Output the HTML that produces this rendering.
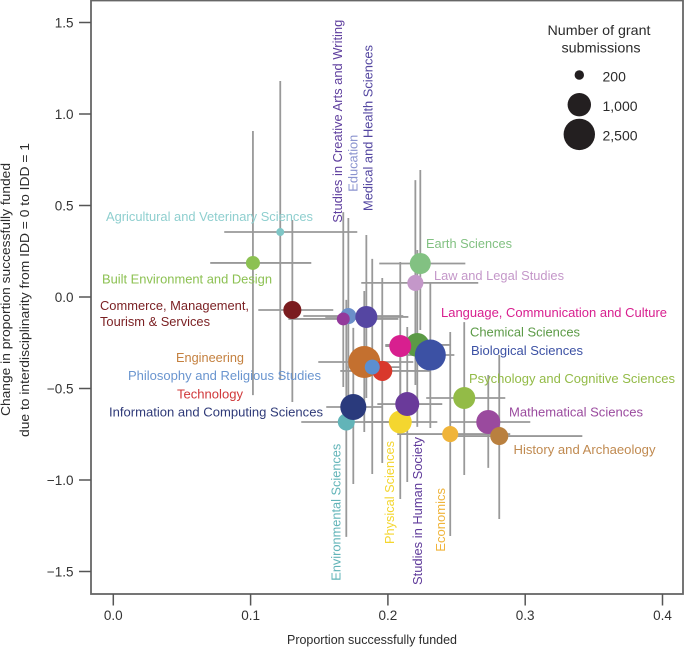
<!DOCTYPE html>
<html>
<head>
<meta charset="utf-8">
<title>Grant funding and interdisciplinarity by research field</title>
<style>
html,body{margin:0;padding:0;background:#fff;}
svg{display:block;font-family:"Liberation Sans",sans-serif;}
text{font-size:13px;}
.tick{fill:#333;font-size:13.5px;}
.ttl{fill:#2b2b2b;font-size:13.2px;}
.lg{fill:#2b2b2b;font-size:14px;}
</style>
</head>
<body>
<svg id="chart" width="685" height="648" viewBox="0 0 685 648">
  <rect x="0" y="0" width="685" height="648" fill="#fff"/>
  <rect x="91" y="0.5" width="592" height="593.5" fill="none" stroke="#666" stroke-width="1.8"/>
  <g id="grid-ticks"></g>
  <g id="bars"></g>
  <g id="points"></g>

  <g>
    <text x="106" y="221" fill="#8fcfcf" textLength="207" lengthAdjust="spacingAndGlyphs">Agricultural and Veterinary Sciences</text>
    <text x="102" y="283.5" fill="#8cc152" textLength="170" lengthAdjust="spacingAndGlyphs">Built Environment and Design</text>
    <text x="100" y="310" fill="#7a1f22" textLength="149" lengthAdjust="spacingAndGlyphs">Commerce, Management,</text>
    <text x="100" y="326" fill="#7a1f22" textLength="110" lengthAdjust="spacingAndGlyphs">Tourism &amp; Services</text>
    <text x="176" y="362" fill="#c4803f" textLength="68" lengthAdjust="spacingAndGlyphs">Engineering</text>
    <text x="128" y="380" fill="#6a95cf" textLength="193" lengthAdjust="spacingAndGlyphs">Philosophy and Religious Studies</text>
    <text x="177" y="398.5" fill="#d0383a" textLength="66" lengthAdjust="spacingAndGlyphs">Technology</text>
    <text x="109" y="416.5" fill="#2f3a78" textLength="214" lengthAdjust="spacingAndGlyphs">Information and Computing Sciences</text>
    <text x="426" y="248" fill="#82c182" textLength="86" lengthAdjust="spacingAndGlyphs">Earth Sciences</text>
    <text x="434" y="280" fill="#c497c9" textLength="130" lengthAdjust="spacingAndGlyphs">Law and Legal Studies</text>
    <text x="441" y="317" fill="#d81f8f" textLength="226" lengthAdjust="spacingAndGlyphs">Language, Communication and Culture</text>
    <text x="470" y="336.5" fill="#5b9a46" textLength="110" lengthAdjust="spacingAndGlyphs">Chemical Sciences</text>
    <text x="471" y="355" fill="#3c51a4" textLength="112" lengthAdjust="spacingAndGlyphs">Biological Sciences</text>
    <text x="469" y="383" fill="#93bb47" textLength="206" lengthAdjust="spacingAndGlyphs">Psychology and Cognitive Sciences</text>
    <text x="509" y="416.5" fill="#9a4a9e" textLength="134" lengthAdjust="spacingAndGlyphs">Mathematical Sciences</text>
    <text x="513.5" y="454" fill="#c08a50" textLength="142" lengthAdjust="spacingAndGlyphs">History and Archaeology</text>
    <text transform="translate(342,222.7) rotate(-90)" fill="#5f3f9e" textLength="203" lengthAdjust="spacingAndGlyphs">Studies in Creative Arts and Writing</text>
    <text transform="translate(357.5,191.7) rotate(-90)" fill="#8a93cf" textLength="57" lengthAdjust="spacingAndGlyphs">Education</text>
    <text transform="translate(372.7,211) rotate(-90)" fill="#5346a0" textLength="166" lengthAdjust="spacingAndGlyphs">Medical and Health Sciences</text>
    <text transform="translate(340.7,580.7) rotate(-90)" fill="#62b4b8" textLength="137" lengthAdjust="spacingAndGlyphs">Environmental Sciences</text>
    <text transform="translate(394,544) rotate(-90)" fill="#f4d62f" textLength="103" lengthAdjust="spacingAndGlyphs">Physical Sciences</text>
    <text transform="translate(422,585) rotate(-90)" fill="#5f3a9a" textLength="148" lengthAdjust="spacingAndGlyphs">Studies in Human Society</text>
    <text transform="translate(445,551.7) rotate(-90)" fill="#f0b43a" textLength="63.7" lengthAdjust="spacingAndGlyphs">Economics</text>
  </g>

  <g>
    <text class="lg" x="599" y="35" text-anchor="middle" textLength="103" lengthAdjust="spacingAndGlyphs">Number of grant</text>
    <text class="lg" x="601" y="52.5" text-anchor="middle" textLength="79" lengthAdjust="spacingAndGlyphs">submissions</text>
    <g id="legend-entries"></g>
  </g>

  <text class="ttl" x="372" y="644" text-anchor="middle" textLength="170" lengthAdjust="spacingAndGlyphs">Proportion successfully funded</text>
  <text class="ttl" transform="translate(10,416) rotate(-90)" textLength="253" lengthAdjust="spacingAndGlyphs">Change in proportion successfully funded</text>
  <text class="ttl" transform="translate(29,437) rotate(-90)" textLength="294" lengthAdjust="spacingAndGlyphs">due to interdisciplinarity from IDD = 0 to IDD = 1</text>
</svg>

<script>
// Axis tick labels
const xTicks = ['0.0', '0.1', '0.2', '0.3', '0.4'];
const yTicks = ['-1.5', '-1.0', '-0.5', '0.0', '0.5', '1.0', '1.5'];

// Field data (drawing order, back to front)
const fields = ['agricultural', 'built-environment', 'commerce', 'education', 'creative-arts', 'medical', 'engineering', 'technology', 'philosophy', 'environmental', 'information', 'physical', 'society', 'economics', 'mathematical', 'history', 'psychology', 'chemical', 'language', 'biological', 'earth', 'law'];
const proportionFunded = [0.1216, 0.1017, 0.1304, 0.1712, 0.1675, 0.1843, 0.1828, 0.1959, 0.1886, 0.1697, 0.1748, 0.2090, 0.2141, 0.2454, 0.2731, 0.2811, 0.2556, 0.2214, 0.2090, 0.2309, 0.2236, 0.2200];
const proportionLow = [0.0808, 0.0706, 0.1056, 0.1384, 0.1275, 0.1544, 0.1493, 0.1653, 0.1704, 0.1369, 0.1551, 0.1821, 0.1923, 0.2068, 0.2454, 0.2454, 0.2279, 0.1981, 0.1981, 0.2090, 0.1937, 0.1806];
const proportionHigh = [0.1777, 0.1442, 0.1602, 0.2112, 0.2076, 0.2149, 0.2185, 0.2309, 0.2090, 0.2032, 0.1959, 0.2360, 0.2396, 0.2891, 0.3037, 0.3416, 0.2855, 0.2454, 0.2309, 0.2484, 0.2564, 0.2658];
const changeFunded = [0.355, 0.186, -0.071, -0.104, -0.120, -0.109, -0.355, -0.404, -0.383, -0.683, -0.601, -0.683, -0.585, -0.749, -0.683, -0.760, -0.552, -0.262, -0.268, -0.317, 0.183, 0.077];
const changeLow = [-0.454, -0.536, -0.574, -0.546, -0.492, -0.552, -0.738, -0.907, -0.967, -1.311, -1.022, -1.104, -1.011, -1.306, -0.934, -1.213, -0.973, -0.710, -0.601, -0.716, -0.180, -0.481];
const changeHigh = [1.180, 0.907, 0.421, 0.432, 0.464, 0.339, 0.033, 0.104, 0.208, -0.016, -0.169, -0.208, -0.164, -0.191, -0.426, -0.317, -0.137, 0.257, 0.191, 0.082, 0.694, 0.639];
const submissions = [170, 340, 540, 430, 300, 850, 2670, 680, 380, 480, 1350, 950, 1070, 430, 1070, 540, 850, 1070, 850, 2380, 760, 430];
const colors = ['#7fc6c6', '#8cc152', '#7a1c1f', '#6b8fc9', '#93399b', '#5546a2', '#c4702f', '#d9382c', '#5b8fd0', '#62b4b8', '#2a3a7c', '#f4d62f', '#6a3a9a', '#f0b43a', '#9a4a9e', '#b9803f', '#93bb47', '#5b9a46', '#d81f8f', '#3c51a4', '#82c182', '#c497c9'];

// Size legend
const legendValues = [200, 1000, 2500];
const legendLabels = ['200', '1,000', '2,500'];

const NS = 'http://www.w3.org/2000/svg';
function xScale(v) { return 113.3 + 1373 * v; }
function yScale(v) { return 297 - 183 * v; }
function rScale(n) { return 4.7 + 4.355 * Math.log(n / 200); }
function make(tag, attrs, parent) {
  const el = document.createElementNS(NS, tag);
  for (const k in attrs) el.setAttribute(k, attrs[k]);
  parent.appendChild(el);
  return el;
}

const tickGroup = document.getElementById('grid-ticks');
xTicks.forEach(function (t) {
  const px = xScale(parseFloat(t));
  const mark = make('line', { x1: px, x2: px, y1: 594, y2: 605.5, stroke: '#555', 'stroke-width': 1.5 }, tickGroup);
  
  
  const label = make('text', { x: px, y: 620, 'text-anchor': 'middle', class: 'tick' }, tickGroup);
  label.textContent = t;
  
  
});
yTicks.forEach(function (t) {
  const v = parseFloat(t);
  const py = yScale(v);
  const mark = make('line', { x1: 79, x2: 91, y1: py, y2: py, stroke: '#555', 'stroke-width': 1.5 }, tickGroup);
  
  
  const label = make('text', { x: 73.5, y: py + 5, 'text-anchor': 'end', class: 'tick' }, tickGroup);
  label.textContent = t.replace('-', '\u2212');
  
  
});

const barGroup = document.getElementById('bars');
const pointGroup = document.getElementById('points');
fields.forEach(function (name, i) {
  const px = xScale(proportionFunded[i]);
  const py = yScale(changeFunded[i]);
  const h = make('line', { x1: xScale(proportionLow[i]), x2: xScale(proportionHigh[i]), y1: py, y2: py, stroke: '#999', 'stroke-width': 1.8 }, barGroup);
  
  
  const v = make('line', { x1: px, x2: px, y1: yScale(changeHigh[i]), y2: yScale(changeLow[i]), stroke: '#999', 'stroke-width': 1.8 }, barGroup);
  
  
  const c = make('circle', { cx: px, cy: py, r: rScale(submissions[i]), fill: colors[i] }, pointGroup);
  
  
});

const legendGroup = document.getElementById('legend-entries');
legendValues.forEach(function (n, i) {
  const cy = 75 + 29.7 * i;
  const c = make('circle', { cx: 579.3, cy: cy, r: rScale(n), fill: '#231f20' }, legendGroup);
  
  
  const label = make('text', { x: 602.5, y: cy + 6.3, class: 'lg' }, legendGroup);
  label.textContent = legendLabels[i];
  
  
});
</script>
</body>
</html>
